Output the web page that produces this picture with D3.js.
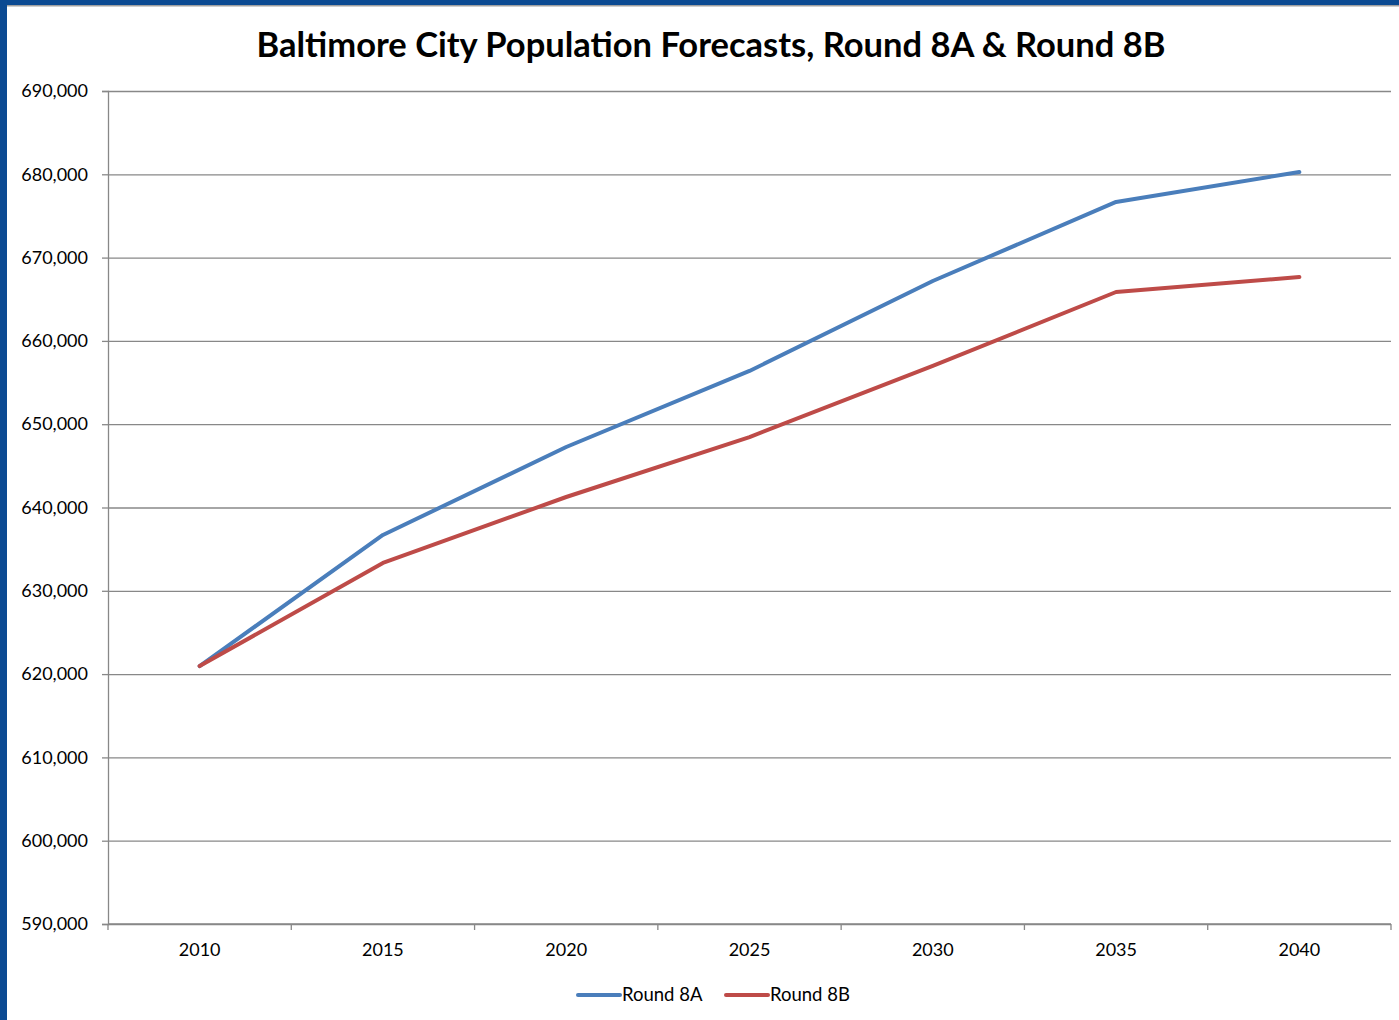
<!DOCTYPE html>
<html>
<head>
<meta charset="utf-8">
<script src="https://cdn.jsdelivr.net/npm/d3@7"></script>
<style>
  body { margin: 0; background: #fff; }
  text { font-family: Lato, "Open Sans", sans-serif; fill: #000; }
</style>
</head>
<body>
<div id="chart"></div>
<script>
const years = ["2010", "2015", "2020", "2025", "2030", "2035", "2040"];
const round8A = [620961, 636700, 647260, 656390, 667190, 676680, 680280];
const round8B = [620961, 633340, 641260, 648460, 656990, 665870, 667670];
const seriesNames = ["Round 8A", "Round 8B"];
const seriesColors = ["#4a7ebb", "#be4b48"];
const yTicks = d3.range(590000, 690001, 10000);

const width = 1399, height = 1020;
const margin = {top: 91, right: 8, bottom: 96, left: 108};

const svg = d3.select("#chart").append("svg")
    .attr("width", width)
    .attr("height", height);

// frame strips
svg.append("rect").attr("x", 0).attr("y", 0).attr("width", width).attr("height", 5).attr("fill", "#0b4a92");
svg.append("rect").attr("x", 0).attr("y", 5).attr("width", width).attr("height", 1.5).attr("fill", "#a0a0a0");
svg.append("rect").attr("x", 0).attr("y", 0).attr("width", 7).attr("height", height).attr("fill", "#0b4a92");

const x = d3.scaleBand()
    .domain(years)
    .range([margin.left, width - margin.right]);

const y = d3.scaleLinear()
    .domain([590000, 690000])
    .range([height - margin.bottom, margin.top]);

// gridlines + y axis
const yAxis = g => g
    .attr("transform", `translate(${margin.left},0)`)
    .call(d3.axisLeft(y).tickValues(yTicks).tickSize(6).tickPadding(14).tickFormat(d3.format(",")))
    .call(g => g.select(".domain").attr("stroke", "#888").attr("stroke-width", 1.3))
    .call(g => g.selectAll(".tick line").clone()
        .attr("x2", width - margin.right - margin.left)
        .attr("stroke", "#888").attr("stroke-width", 1.3))
    .call(g => g.selectAll(".tick line").attr("stroke", "#888").attr("stroke-width", 1.3))
    .call(g => g.selectAll(".tick text").style("font-size", "18px"));

svg.append("g").call(yAxis);

// x axis with ticks between categories
const xAxis = g => g
    .attr("transform", `translate(0,${height - margin.bottom})`)
    .call(d3.axisBottom(x).tickSize(0).tickPadding(19))
    .call(g => g.select(".domain").remove())
    .call(g => g.selectAll(".tick text").style("font-size", "18px"));

const gx = svg.append("g").call(xAxis);
gx.append("line")
    .attr("x1", margin.left).attr("x2", width - margin.right)
    .attr("stroke", "#888").attr("stroke-width", 1.3);
gx.selectAll(".sep")
    .data(years.concat(["end"]))
    .join("line")
    .attr("class", "sep")
    .attr("x1", (d, i) => i < years.length ? x(d) : x.range()[1])
    .attr("x2", (d, i) => i < years.length ? x(d) : x.range()[1])
    .attr("y1", 0).attr("y2", 6)
    .attr("stroke", "#888").attr("stroke-width", 1.3);

// lines
const line = d3.line()
    .x((d, i) => x(years[i]) + x.bandwidth() / 2)
    .y(d => y(d));

[round8A, round8B].forEach((vals, i) => {
  svg.append("path")
      .datum(vals)
      .attr("fill", "none")
      .attr("stroke", seriesColors[i])
      .attr("stroke-width", 4)
      .attr("stroke-linejoin", "round")
      .attr("stroke-linecap", "round")
      .attr("d", line);
});

// title
svg.append("text")
    .attr("x", 711)
    .attr("y", 57)
    .attr("text-anchor", "middle")
    .style("font-size", "34.5px")
    .style("font-weight", "bold")
    .text("Baltimore City Population Forecasts, Round 8A & Round 8B");

// legend
const legend = svg.append("g").attr("transform", "translate(578,995)");
const legendX = [0, 148];
seriesNames.forEach((name, i) => {
  const lg = legend.append("g").attr("transform", `translate(${legendX[i]},0)`);
  lg.append("line")
      .attr("x1", 0).attr("x2", 42)
      .attr("stroke", seriesColors[i])
      .attr("stroke-width", 4)
      .attr("stroke-linecap", "round");
  lg.append("text")
      .attr("x", 44)
      .attr("dy", "0.35em")
      .style("font-size", "18.5px")
      .text(name);
});
</script>
</body>
</html>
